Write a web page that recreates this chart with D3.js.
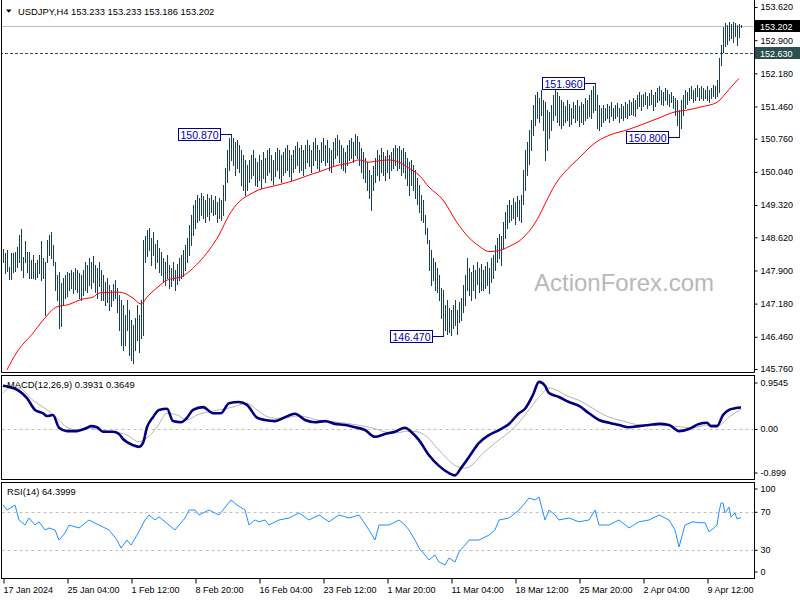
<!DOCTYPE html>
<html><head><meta charset="utf-8">
<script src="https://cdn.jsdelivr.net/npm/d3@7"></script>
<style>
body{margin:0;background:#fff}
svg{display:block}
text{font-family:"Liberation Sans",Arial,sans-serif}
</style>
</head><body>
<script>
// ---------------- DATA ----------------
const symbolTitle = "USDJPY,H4  153.233 153.233 153.186 153.202";
const highs = [
148.37,148.28,148.34,147.97,148.28,148.28,148.30,148.41,148.67,148.80,
148.20,148.54,148.30,148.30,148.13,148.24,148.06,148.13,148.24,148.54,
148.17,148.08,148.56,148.67,148.73,148.45,148.08,147.80,147.87,147.63,
147.74,147.80,147.87,147.84,147.91,147.87,147.95,147.91,147.84,147.80,
147.91,148.08,148.02,148.17,148.08,148.21,148.02,147.95,148.08,147.91,
147.80,147.65,147.74,147.58,147.47,147.61,147.69,147.52,147.37,147.26,
147.15,146.93,147.26,147.04,146.82,146.71,146.87,147.15,146.93,147.26,
148.56,148.65,148.78,148.82,148.60,148.73,148.47,148.56,148.39,148.30,
148.17,148.08,148.24,148.02,147.95,148.08,147.91,148.04,148.17,148.24,
148.34,148.45,148.60,148.88,149.10,149.32,149.43,149.54,149.47,149.58,
149.52,149.43,149.56,149.47,149.54,149.43,149.52,149.39,149.47,149.43,
149.76,150.12,150.51,150.78,150.87,150.78,150.69,150.73,150.62,150.51,
150.40,150.30,150.19,150.30,150.40,150.51,150.34,150.25,150.40,150.30,
150.47,150.34,150.51,150.56,150.40,150.30,150.47,150.56,150.51,150.40,
150.47,150.56,150.62,150.51,150.40,150.51,150.60,150.69,150.56,150.62,
150.51,150.62,150.73,150.62,150.51,150.69,150.78,150.62,150.51,150.69,
150.78,150.62,150.73,150.56,150.51,150.69,150.78,150.84,150.73,150.62,
150.56,150.47,150.62,150.73,150.78,150.69,150.86,150.82,150.69,150.56,
150.47,150.34,150.25,150.08,149.97,150.17,150.34,150.51,150.40,150.56,
150.47,150.38,150.51,150.40,150.47,150.56,150.62,150.56,150.60,150.51,
150.56,150.47,150.34,150.25,150.30,150.19,150.08,149.91,149.75,149.54,
149.43,149.10,148.82,148.56,148.34,148.17,148.08,147.95,147.80,147.52,
147.47,147.15,147.26,147.08,147.04,147.15,147.26,147.04,147.21,147.30,
147.58,147.80,148.17,147.95,147.87,148.02,147.91,148.08,147.95,148.04,
147.91,148.00,148.08,147.95,148.17,148.24,148.45,148.60,148.69,148.65,
148.95,149.17,149.32,149.43,149.32,149.47,149.39,149.52,149.43,149.54,
150.08,150.51,150.69,150.95,151.17,151.49,151.71,151.78,151.64,151.82,
151.60,151.56,151.38,151.34,151.49,151.71,151.86,151.77,151.69,151.60,
151.56,151.47,151.60,151.51,151.43,151.56,151.49,151.60,151.47,151.56,
151.51,151.64,151.60,151.71,151.82,151.90,151.96,151.71,151.49,151.43,
151.49,151.43,151.51,151.47,151.56,151.43,151.49,151.53,151.43,151.51,
151.47,151.56,151.51,151.60,151.56,151.64,151.60,151.71,151.77,151.71,
151.73,151.77,151.69,151.75,151.82,151.71,151.77,151.86,151.90,151.82,
151.77,151.86,151.82,151.73,151.77,151.69,151.64,151.60,151.38,151.60,
151.71,151.82,151.77,151.86,151.90,151.82,151.86,151.93,151.86,151.90,
151.86,151.82,151.90,151.82,151.86,151.93,151.90,152.03,152.51,152.79,
153.19,153.28,153.23,153.30,153.25,153.30,153.28,153.23,153.25,153.233];
const lows = [
148.08,147.85,147.89,147.72,147.72,147.87,147.89,147.97,148.08,147.91,
147.76,148.08,147.87,147.74,147.74,147.74,147.72,147.76,147.85,147.69,
147.74,146.93,148.08,148.24,148.17,148.02,147.47,147.26,146.65,146.69,
147.15,147.30,147.34,147.47,147.52,147.41,147.50,147.43,147.30,147.26,
147.37,147.47,147.43,147.58,147.52,147.65,147.43,147.30,147.56,147.26,
147.26,147.15,147.21,147.04,147.13,147.26,147.30,147.00,146.61,146.28,
146.17,146.28,146.61,146.06,145.96,145.88,146.17,146.39,146.13,146.43,
146.50,148.08,148.21,148.34,148.02,148.24,147.95,148.08,147.87,147.80,
147.65,147.58,147.74,147.52,147.56,147.69,147.47,147.61,147.69,147.74,
147.78,147.91,148.08,148.24,148.45,148.67,148.82,148.95,148.99,149.10,
149.04,148.95,149.08,148.99,149.17,149.10,149.12,148.95,149.04,148.99,
149.10,149.43,149.82,150.08,150.30,150.19,149.97,150.12,150.04,149.75,
149.65,149.54,149.65,149.82,149.91,149.97,149.75,149.73,149.86,149.69,
149.91,149.82,149.97,150.04,149.86,149.78,149.95,150.08,149.91,149.82,
149.97,150.04,150.08,149.95,149.86,150.04,150.12,150.19,150.04,150.08,
149.97,150.12,150.25,150.17,150.04,150.19,150.30,150.12,150.08,150.25,
150.30,150.19,150.25,150.08,150.04,150.19,150.34,150.40,150.25,150.12,
150.08,150.04,150.19,150.30,150.34,150.25,150.40,150.34,150.19,150.04,
149.91,149.82,149.65,149.47,149.21,149.65,149.82,149.97,149.86,150.04,
149.97,149.86,150.04,149.91,150.08,150.12,150.19,150.08,150.12,149.97,
150.04,149.91,149.75,149.54,149.75,149.65,149.47,149.34,149.17,148.99,
148.95,148.69,148.50,147.91,147.58,147.69,147.47,147.43,147.26,146.87,
146.47,146.61,146.52,146.56,146.50,146.65,146.71,146.52,146.78,146.82,
147.00,147.15,147.47,147.37,147.26,147.47,147.30,147.61,147.43,147.47,
147.47,147.52,147.58,147.41,147.65,147.74,147.91,148.08,148.17,148.02,
148.39,148.60,148.82,148.95,148.99,149.04,148.91,149.08,148.99,148.95,
149.34,149.65,149.97,150.21,150.51,150.84,151.06,151.21,151.12,151.27,
150.95,150.30,150.51,150.78,150.95,151.17,151.27,151.12,151.06,150.99,
151.06,151.12,151.17,151.04,151.08,151.21,151.12,151.17,151.04,151.12,
151.08,151.17,151.21,151.25,151.21,151.34,151.38,150.99,150.95,151.04,
151.12,151.17,151.21,151.12,151.25,151.17,151.21,151.25,151.12,151.21,
151.17,151.23,151.21,151.27,151.30,151.27,151.25,151.43,151.47,151.38,
151.47,151.51,151.43,151.49,151.51,151.38,151.47,151.56,151.60,151.51,
151.49,151.60,151.51,151.47,151.56,151.43,151.27,151.06,150.80,150.99,
151.27,151.43,151.51,151.60,151.64,151.56,151.60,151.69,151.60,151.64,
151.60,151.64,151.60,151.56,151.64,151.69,151.64,151.69,151.77,152.36,
152.64,152.77,152.82,152.90,152.95,152.86,152.99,152.79,152.97,153.186];

const maBars = [2,7,15,20,27,32,40,45,48,58,65,69,72,78,82,89,98,103,108,113,118,123,128,133,138,143,148,153,158,163,168,173,178,183,188,193,198,203,208,213,220,227,233,238,243,248,253,259,267,272,276,281,287,297,304,312,322,328,335,343,350,357,363,368];
const maValues = [145.74,146.13,146.54,146.82,147.11,147.15,147.28,147.32,147.41,147.43,147.30,147.17,147.32,147.56,147.69,147.76,148.08,148.34,148.67,149.10,149.39,149.54,149.65,149.71,149.76,149.82,149.89,149.97,150.04,150.12,150.19,150.23,150.30,150.25,150.28,150.30,150.25,150.12,149.97,149.71,149.43,148.94,148.61,148.43,148.31,148.33,148.42,148.57,149.00,149.43,149.76,150.04,150.30,150.70,150.85,150.95,151.11,151.21,151.33,151.39,151.46,151.55,151.83,152.07];

const macdBars = [0,3,8,12,16,20,22,25,28,32,36,42,44,47,50,55,58,60,65,68,70,72,75,78,82,85,89,92,95,100,105,109,113,118,122,127,131,136,141,146,151,156,161,166,171,176,181,186,191,196,201,204,208,213,218,223,226,229,233,238,243,248,253,258,261,265,268,271,273,278,283,288,293,298,303,308,313,318,323,328,333,338,343,348,352,354,357,360,363,366,369];
const macdValues = [0.78,0.76,0.69,0.56,0.35,0.29,0.24,0.26,0.03,-0.03,-0.03,0.03,0.06,0.04,-0.04,-0.04,-0.08,-0.17,-0.28,-0.31,-0.24,0.04,0.22,0.35,0.37,0.15,0.13,0.21,0.35,0.40,0.29,0.29,0.47,0.49,0.44,0.21,0.17,0.15,0.22,0.28,0.17,0.13,0.15,0.10,0.08,0.04,-0.01,-0.13,-0.08,-0.04,0.03,-0.04,-0.19,-0.46,-0.65,-0.78,-0.82,-0.69,-0.49,-0.24,-0.10,-0.01,0.10,0.29,0.37,0.62,0.85,0.78,0.65,0.58,0.49,0.42,0.29,0.17,0.12,0.08,0.04,0.06,0.08,0.10,0.08,-0.03,0.01,0.10,0.12,0.06,0.06,0.26,0.35,0.38,0.3931];
const signalBars = [0,3,8,15,22,27,32,37,43,48,55,62,68,72,77,82,87,92,97,102,108,115,122,127,132,137,142,147,152,157,162,167,172,177,182,187,192,197,202,207,212,217,222,227,231,235,239,244,249,254,259,264,269,273,277,282,288,293,298,303,308,313,318,323,328,333,338,345,352,358,363,369];
const signalValues = [0.65,0.74,0.74,0.52,0.35,0.20,0.04,-0.01,0.03,-0.01,-0.04,-0.10,-0.22,-0.15,0.04,0.29,0.26,0.17,0.26,0.31,0.35,0.40,0.47,0.35,0.23,0.20,0.21,0.24,0.22,0.17,0.15,0.13,0.11,0.08,0.05,0.00,-0.05,-0.06,-0.03,-0.04,-0.13,-0.33,-0.52,-0.66,-0.69,-0.62,-0.46,-0.30,-0.16,-0.02,0.17,0.40,0.62,0.74,0.70,0.60,0.52,0.42,0.31,0.22,0.17,0.12,0.08,0.07,0.08,0.07,0.05,0.03,0.08,0.08,0.22,0.3649];

const rsiBars = [0,2,6,8,11,13,16,18,21,23,26,28,31,33,38,43,48,53,57,59,62,64,67,71,73,76,78,81,83,86,88,91,93,96,98,103,108,112,114,117,121,123,126,128,131,133,138,143,148,153,158,163,168,173,178,183,186,188,193,198,201,203,206,208,211,213,216,218,221,223,226,228,231,233,238,243,246,248,253,258,261,263,266,268,271,273,276,278,283,288,293,296,298,303,308,313,318,323,328,333,336,338,341,345,348,351,353,355,357,358,359,360,361,363,364,366,367,369];
const rsiValues = [77.7,72.4,77.7,61.9,56.6,64,56.6,60,51.4,53.5,51.4,40.8,48.2,56.6,53.5,61.9,56.6,51.4,40.8,32.4,40.8,35.5,46,61.9,67.2,61.9,65.2,60,56.6,51.4,56.6,64,72.4,72.4,67.2,72.4,67.2,77.7,83,77.7,72.4,56.6,61.9,60,61.9,56.6,61.9,64,69.3,61.9,67.2,60,67.2,64,67.2,51.4,40.8,56.6,56.6,61.9,56.6,51.4,40.8,32.4,25,19.8,25,17.7,14.5,21.9,17.7,28.2,35.5,40.8,40.8,46,51.4,61.9,64,72.4,79.8,85,83,86.1,61.9,72.4,67.2,61.9,64,60,61.9,72.4,56.6,56.6,61.9,53.5,60,61.9,67.2,61.9,51.4,33.5,56.6,60,59,59,49.5,52.6,56.6,70.3,79.8,79.8,69.3,75.6,65,69.3,63,64.3999];

const priceTicks = [153.620,152.900,152.180,151.460,150.760,150.040,149.320,148.620,147.900,147.180,146.460,145.760];
const macdTicks = [0.9545,0.00,-0.899];
const macdTickLabels = ["0.9545","0.00","-0.899"];
const rsiTicks = [100,70,30,0];
const rsiLevels = [70,30];
const timeTickBars = [0,32,64,96,128,160,192,224,256,288,320,352];
const timeTickLabels = ["17 Jan 2024","25 Jan 04:00","1 Feb 12:00","8 Feb 20:00","16 Feb 04:00","23 Feb 12:00","1 Mar 20:00","11 Mar 04:00","18 Mar 12:00","25 Mar 20:00","2 Apr 04:00","9 Apr 12:00"];
const annotBars = [114,296,338,220];
const annotValues = [150.870,151.960,150.800,146.470];
const lastPrice = 153.202;
const levelPrice = 152.630;
const macdTitle = "MACD(12,26,9) 0.3931 0.3649";
const rsiTitle = "RSI(14) 64.3999";
const watermark = "ActionForex.com";

// ---------------- LAYOUT ----------------
const W = 800, H = 600;
const L = 1.5, R = 754.5;
const P1 = {top: 0, bottom: 372.5};
const P2 = {top: 375.5, bottom: 479.5};
const P3 = {top: 482.5, bottom: 578.5};
const FONT = 9;
const TFONT = 9.4;

const svg = d3.select("body").append("svg").attr("width", W).attr("height", H);
const defs = svg.append("defs");
defs.append("clipPath").attr("id","c1").append("rect").attr("x",L).attr("y",P1.top).attr("width",R-L).attr("height",P1.bottom-P1.top);
defs.append("clipPath").attr("id","c2").append("rect").attr("x",L).attr("y",P2.top).attr("width",R-L).attr("height",P2.bottom-P2.top);
defs.append("clipPath").attr("id","c3").append("rect").attr("x",L).attr("y",P3.top).attr("width",R-L).attr("height",P3.bottom-P3.top);

const N = highs.length;
const x = d3.scaleLinear().domain([0, N-1]).range([3, 3 + 2*(N-1)]);
const yP = d3.scaleLinear().domain([145.76, 153.62]).range([369, 7]);
const yM = d3.scaleLinear().domain([-0.899, 0.9545]).range([479.8, 376.05]);
const yR = d3.scaleLinear().domain([0, 100]).range([578.8, 483.8]);

// ---------------- MAIN PANEL ----------------
const g1 = svg.append("g").attr("clip-path","url(#c1)");
g1.append("line").attr("x1",0).attr("x2",R).attr("y1",Math.round(yP(lastPrice))+0.5).attr("y2",Math.round(yP(lastPrice))+0.5)
  .attr("stroke","#c0c0c0").attr("stroke-width",1);
g1.append("line").attr("x1",0).attr("x2",R).attr("y1",Math.round(yP(levelPrice))+0.5).attr("y2",Math.round(yP(levelPrice))+0.5)
  .attr("stroke","#2f4f4f").attr("stroke-width",1).attr("stroke-dasharray","3,2");

svg.append("text").attr("x",534).attr("y",291).attr("font-size",24).attr("fill","#b8b8b8").text(watermark);

g1.append("g").selectAll("line").data(d3.range(N)).join("line")
  .attr("x1",i=>Math.round(x(i))+0.5).attr("x2",i=>Math.round(x(i))+0.5)
  .attr("y1",i=>yP(highs[i])).attr("y2",i=>yP(lows[i])+1)
  .attr("stroke","#173e5c").attr("stroke-width",1).attr("shape-rendering","crispEdges");

const maData = maBars.map((b,i)=>[b, maValues[i]]);
g1.append("path").datum(maData)
  .attr("d", d3.line().x(d=>x(d[0])).y(d=>yP(d[1])).curve(d3.curveMonotoneX))
  .attr("fill","none").attr("stroke","#ff0000").attr("stroke-width",1);

const ann = g1.append("g");
annotBars.forEach((b,i)=>{
  const v = annotValues[i];
  const bx = x(b), by = Math.round(yP(v))+0.5;
  const bw = 42, bh = 12;
  const right = Math.round(bx) - 10.5;
  ann.append("line").attr("x1",right).attr("x2",Math.round(bx)+0.5).attr("y1",by).attr("y2",by)
     .attr("stroke","#000080").attr("stroke-width",1);
  ann.append("rect").attr("x",right-bw).attr("y",by-6).attr("width",bw).attr("height",bh)
     .attr("fill","#fff").attr("stroke","#000080").attr("stroke-width",1);
  ann.append("text").attr("x",right-bw/2).attr("y",by+4).attr("text-anchor","middle")
     .attr("font-size",10.5).attr("fill","#0000b0").text(d3.format(".3f")(v));
});

svg.append("path").attr("d","M6,9.5 L11.5,9.5 L8.75,12.8 Z").attr("fill","#000");
svg.append("text").attr("x",18).attr("y",14.5).attr("font-size",TFONT).attr("fill","#000").text(symbolTitle);

svg.append("path").attr("d",`M${L},${P1.top} V${P1.bottom} H${R} V${P1.top}`).attr("fill","none").attr("stroke","#000").attr("stroke-width",1);

const axP = svg.append("g").attr("transform",`translate(${R},0)`)
  .call(d3.axisRight(yP).tickValues(priceTicks).tickFormat(d3.format(".3f")).tickSize(3).tickPadding(3).tickSizeOuter(0));
axP.select(".domain").remove();
axP.selectAll("text").attr("font-size",FONT).attr("fill","#000").attr("font-family","Liberation Sans, Arial, sans-serif");
axP.selectAll("line").attr("stroke","#000");

[[lastPrice,"#000"],[levelPrice,"#2f4f4f"]].forEach(([v,c])=>{
  const yy = Math.round(yP(v));
  svg.append("rect").attr("x",R+0.5).attr("y",yy-6).attr("width",W-R).attr("height",12).attr("fill",c);
  svg.append("text").attr("x",R+5.5).attr("y",yy+3.5).attr("font-size",FONT).attr("fill","#fff").text(d3.format(".3f")(v));
});

// ---------------- MACD PANEL ----------------
const g2 = svg.append("g").attr("clip-path","url(#c2)");
g2.append("line").attr("x1",L).attr("x2",R).attr("y1",Math.round(yM(0))+0.5).attr("y2",Math.round(yM(0))+0.5)
  .attr("stroke","#c0c0c0").attr("stroke-dasharray","3,3");
const sigData = signalBars.map((b,i)=>[b, signalValues[i]]);
g2.append("path").datum(sigData).attr("d", d3.line().x(d=>x(d[0])).y(d=>yM(d[1])).curve(d3.curveMonotoneX))
  .attr("fill","none").attr("stroke","#b4b4b4").attr("stroke-width",1);
const macdData = macdBars.map((b,i)=>[b, macdValues[i]]);
g2.append("path").datum(macdData).attr("d", d3.line().x(d=>x(d[0])).y(d=>yM(d[1])).curve(d3.curveMonotoneX))
  .attr("fill","none").attr("stroke","#000080").attr("stroke-width",2.6).attr("stroke-linejoin","round");
svg.append("rect").attr("x",L).attr("y",P2.top).attr("width",R-L).attr("height",P2.bottom-P2.top)
  .attr("fill","none").attr("stroke","#000");
svg.append("text").attr("x",7).attr("y",388).attr("font-size",TFONT).attr("fill","#000").text(macdTitle);
const axM = svg.append("g").attr("transform",`translate(${R},0)`)
  .call(d3.axisRight(yM).tickValues(macdTicks).tickFormat((d,i)=>macdTickLabels[i]).tickSize(3).tickPadding(3).tickSizeOuter(0));
axM.select(".domain").remove();
axM.selectAll(".tick").attr("transform",d=>`translate(0,${Math.max(P2.top+7.5, Math.min(P2.bottom-6.5, yM(d)))})`);
axM.selectAll("text").attr("font-size",FONT).attr("fill","#000").attr("font-family","Liberation Sans, Arial, sans-serif");
axM.selectAll("line").attr("stroke","#000");

// ---------------- RSI PANEL ----------------
const g3 = svg.append("g").attr("clip-path","url(#c3)");
g3.selectAll(".lvl").data(rsiLevels).join("line")
  .attr("x1",L).attr("x2",R).attr("y1",d=>Math.round(yR(d))+0.5).attr("y2",d=>Math.round(yR(d))+0.5)
  .attr("stroke","#c0c0c0").attr("stroke-dasharray","3,3");
const rsiData = rsiBars.map((b,i)=>[b, rsiValues[i]]);
g3.append("path").datum(rsiData).attr("d", d3.line().x(d=>x(d[0])).y(d=>yR(d[1])))
  .attr("fill","none").attr("stroke","#1e90ff").attr("stroke-width",1);
svg.append("rect").attr("x",L).attr("y",P3.top).attr("width",R-L).attr("height",P3.bottom-P3.top)
  .attr("fill","none").attr("stroke","#000");
svg.append("text").attr("x",7).attr("y",495).attr("font-size",TFONT).attr("fill","#000").text(rsiTitle);
const axR = svg.append("g").attr("transform",`translate(${R},0)`)
  .call(d3.axisRight(yR).tickValues(rsiTicks).tickFormat(d3.format("d")).tickSize(3).tickPadding(3).tickSizeOuter(0));
axR.select(".domain").remove();
axR.selectAll(".tick").attr("transform",d=>`translate(0,${Math.max(P3.top+6.5, Math.min(P3.bottom-6.5, yR(d)))})`);
axR.selectAll("text").attr("font-size",FONT).attr("fill","#000").attr("font-family","Liberation Sans, Arial, sans-serif");
axR.selectAll("line").attr("stroke","#000");

// ---------------- TIME AXIS ----------------
const axT = svg.append("g").attr("transform",`translate(0.5,${P3.bottom})`)
  .call(d3.axisBottom(x).tickValues(timeTickBars).tickFormat((d,i)=>timeTickLabels[i]).tickSize(5).tickPadding(3).tickSizeOuter(0));
axT.select(".domain").remove();
axT.selectAll("text").attr("font-size",FONT).attr("fill","#000").attr("text-anchor","start").attr("dx",-0.5)
  .attr("font-family","Liberation Sans, Arial, sans-serif");
axT.selectAll("line").attr("stroke","#000");
</script>
</body></html>
